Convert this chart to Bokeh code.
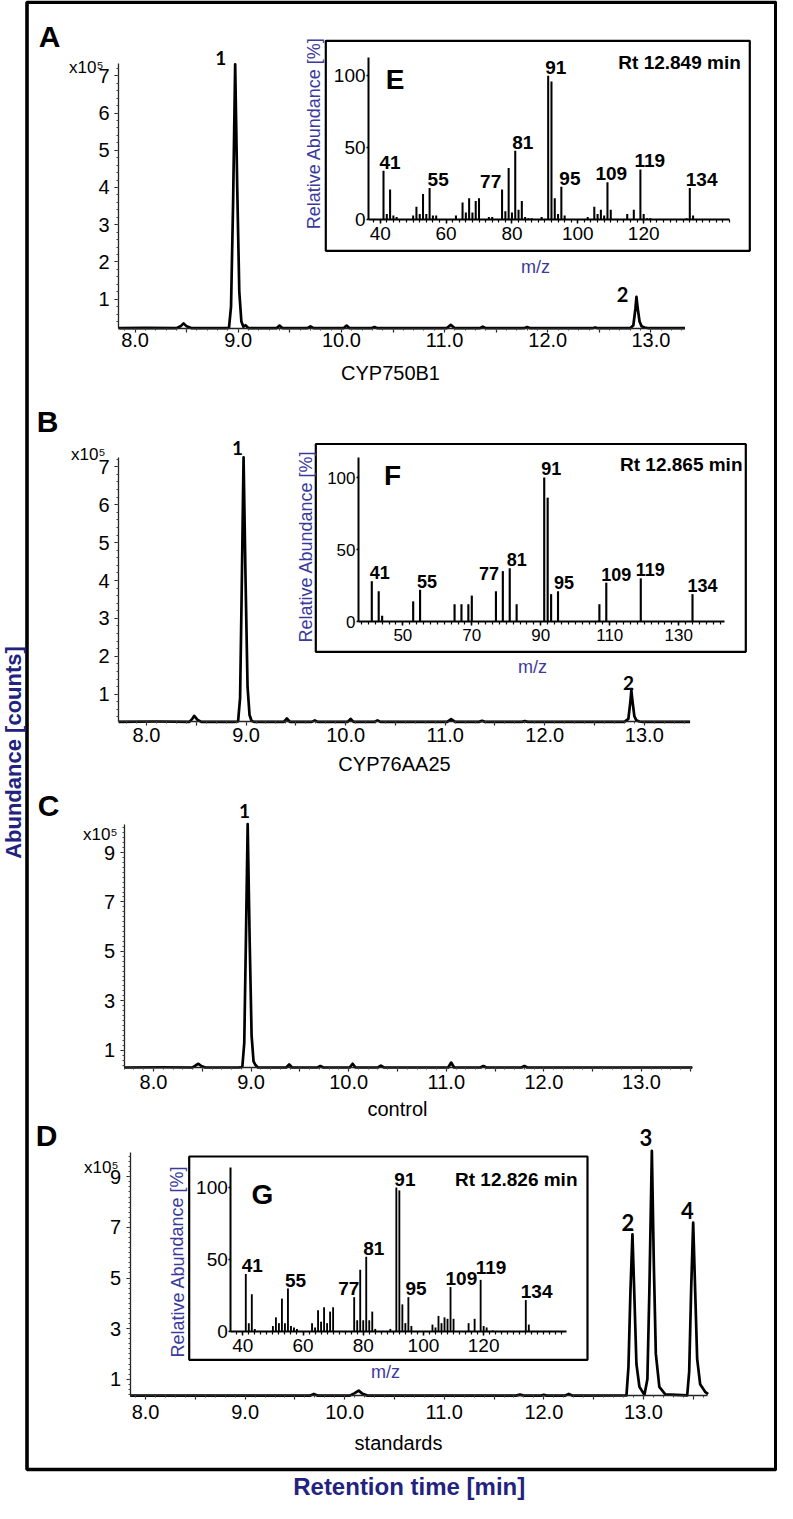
from bokeh.plotting import figure
from bokeh.models import (Range1d, LinearAxis, FixedTicker, PrintfTickFormatter,
                          BoxAnnotation, Label, ColumnDataSource)
from bokeh.core.properties import value
from bokeh.embed import file_html
from bokeh.resources import INLINE

# ------------------------------------------------------------------ data
# chromatograms: retention time [min] vs abundance [x10^5 counts]
A_time = [7.84, 8.10, 8.40, 8.44, 8.47, 8.50, 8.55, 8.88, 8.91, 8.93, 8.95, 8.97, 8.99,
          9.01, 9.03, 9.05, 9.07, 9.10, 9.37, 9.40, 9.43, 9.67, 9.70, 9.73, 10.02, 10.05,
          10.08, 10.29, 10.32, 10.35, 11.02, 11.06, 11.10, 11.34, 11.37, 11.40, 11.77,
          11.80, 11.83, 12.43, 12.46, 12.49, 12.80, 12.83, 12.85, 12.86, 12.87, 12.89,
          12.91, 12.94, 12.98, 13.33]
A_abund = [0.22, 0.23, 0.22, 0.27, 0.35, 0.27, 0.22, 0.22, 0.23, 0.80, 3.60, 7.31, 4.00,
           1.20, 0.40, 0.26, 0.30, 0.22, 0.22, 0.29, 0.22, 0.22, 0.27, 0.22, 0.22, 0.29,
           0.22, 0.22, 0.25, 0.22, 0.22, 0.31, 0.22, 0.22, 0.26, 0.22, 0.22, 0.25, 0.22,
           0.22, 0.24, 0.22, 0.22, 0.30, 0.75, 1.06, 0.80, 0.40, 0.27, 0.24, 0.22, 0.22]

B_time = [7.72, 8.10, 8.43, 8.46, 8.48, 8.51, 8.55, 8.88, 8.92, 8.94, 8.955, 8.975, 8.995,
          9.015, 9.035, 9.055, 9.08, 9.38, 9.41, 9.44, 9.66, 9.69, 9.72, 10.02, 10.05, 10.08,
          10.29, 10.32, 10.35, 11.02, 11.06, 11.10, 11.34, 11.37, 11.40, 11.77, 11.80, 11.83,
          12.80, 12.84, 12.86, 12.87, 12.88, 12.90, 12.92, 12.95, 12.99, 13.46]
B_abund = [0.27, 0.28, 0.27, 0.35, 0.43, 0.33, 0.27, 0.27, 0.28, 0.90, 3.50, 7.25, 4.00,
           1.20, 0.45, 0.30, 0.27, 0.27, 0.36, 0.27, 0.27, 0.31, 0.27, 0.27, 0.35, 0.27,
           0.27, 0.31, 0.27, 0.27, 0.34, 0.27, 0.27, 0.30, 0.27, 0.27, 0.29, 0.27, 0.27,
           0.35, 0.80, 1.10, 0.85, 0.42, 0.31, 0.28, 0.27, 0.27]

C_time = [7.70, 8.10, 8.40, 8.43, 8.46, 8.49, 8.53, 8.87, 8.91, 8.93, 8.945, 8.965, 8.985,
          9.005, 9.025, 9.045, 9.07, 9.36, 9.39, 9.42, 9.68, 9.71, 9.74, 10.01, 10.04, 10.07,
          10.30, 10.33, 10.36, 11.02, 11.05, 11.08, 11.35, 11.38, 11.41, 11.77, 11.80, 11.83,
          13.52]
C_abund = [0.30, 0.31, 0.30, 0.38, 0.45, 0.36, 0.30, 0.30, 0.32, 1.30, 5.00, 10.15, 5.50,
           1.60, 0.55, 0.40, 0.30, 0.30, 0.42, 0.30, 0.30, 0.36, 0.30, 0.30, 0.45, 0.30,
           0.30, 0.38, 0.30, 0.30, 0.50, 0.30, 0.30, 0.36, 0.30, 0.30, 0.36, 0.30, 0.30]

D_time = [7.845, 9.65, 9.69, 9.73, 10.05, 10.10, 10.14, 10.18, 10.23, 11.72, 11.76, 11.80,
          11.97, 12.00, 12.03, 12.21, 12.25, 12.29, 12.83, 12.85, 12.87, 12.89, 12.91, 12.93,
          12.96, 13.01, 13.04, 13.06, 13.085, 13.105, 13.125, 13.16, 13.22, 13.44, 13.46,
          13.48, 13.50, 13.52, 13.54, 13.57, 13.62, 13.65]
D_abund = [0.35, 0.35, 0.42, 0.35, 0.35, 0.45, 0.55, 0.42, 0.35, 0.35, 0.39, 0.35, 0.35,
           0.38, 0.35, 0.35, 0.42, 0.35, 0.36, 1.50, 4.50, 6.73, 4.20, 1.60, 0.70, 0.38,
           1.00, 4.50, 10.03, 5.50, 2.00, 0.70, 0.40, 0.36, 1.30, 4.60, 7.19, 4.50, 1.80,
           0.80, 0.50, 0.41]

# mass spectra: m/z vs relative abundance [%]
E_mz = [41, 42, 43, 44, 45, 50, 51, 52, 53, 54, 55, 56, 57, 63, 65, 66, 67, 68, 69, 70,
        73, 74, 77, 78, 79, 80, 81, 82, 83, 84, 85, 86, 89, 91, 92, 93, 94, 95, 96, 103,
        105, 106, 107, 108, 109, 110, 115, 117, 119, 120, 121, 122, 133, 134, 135]
E_rel = [34, 4, 21, 3, 2, 3, 9, 4, 18, 4, 22, 3, 3, 3, 12, 5, 15, 5, 13, 15,
         2, 2, 21, 6, 36, 5, 48, 7, 13, 2, 1, 1, 2, 100, 96, 15, 4, 23, 3, 2,
         9, 4, 7, 3, 26, 7, 4, 7, 35, 4, 1, 1, 1, 22, 3]

F_mz = [41, 43, 44, 53, 55, 65, 67, 69, 70, 77, 79, 81, 83, 91, 92, 93, 95, 107, 109, 119, 134]
F_rel = [28, 21, 4, 14, 22, 12, 12, 12, 18, 21, 35, 37, 12, 100, 86, 19, 21, 12, 27, 30, 19]

G_mz = [41, 42, 43, 44, 50, 51, 52, 53, 54, 55, 56, 57, 58, 63, 64, 65, 66, 67, 68, 69,
        70, 77, 78, 79, 80, 81, 82, 83, 84, 89, 91, 92, 93, 94, 95, 96, 103, 104, 105, 106,
        107, 108, 109, 110, 115, 117, 119, 120, 121, 123, 134, 135]
G_rel = [40, 6, 26, 2, 4, 10, 6, 23, 6, 30, 4, 3, 2, 6, 3, 15, 7, 17, 6, 14,
         17, 24, 8, 43, 8, 52, 8, 14, 2, 2, 100, 98, 19, 6, 24, 4, 5, 3, 11, 6,
         10, 9, 31, 9, 6, 9, 36, 4, 3, 1, 22, 5]

labelled_ions = [41, 55, 77, 81, 91, 95, 109, 119, 134]

chrom_xticks = [8.0, 8.5, 9.0, 9.5, 10.0, 10.5, 11.0, 11.5, 12.0, 12.5, 13.0, 13.5]
AB_yticks = [1, 2, 3, 4, 5, 6, 7]
CD_yticks = [1, 3, 5, 7, 9]
spec_yticks = [0, 50, 100]
E_xticks = [40, 60, 80, 100, 120]
F_xticks = [50, 70, 90, 110, 130]
G_xticks = [40, 60, 80, 100, 120]

for t_, a_ in ((A_time, A_abund), (B_time, B_abund), (C_time, C_abund), (D_time, D_abund),
               (E_mz, E_rel), (F_mz, F_rel), (G_mz, G_rel)):
    assert len(t_) == len(a_)

# ------------------------------------------------------------------ canvas
X0, X1, Y0, Y1 = 8, 785, 8, 1511          # page pixels covered by the canvas
FONT = "Liberation Sans"
NAVY = "#3a3a9e"
NAVY2 = "#22227f"

p = figure(width=X1 - X0, height=Y1 - Y0,
           x_range=Range1d(X0, X1), y_range=Range1d(Y1, Y0),
           x_axis_type=None, y_axis_type=None, toolbar_location=None,
           output_backend="svg", min_border=0, outline_line_color=None,
           title_location=None, background_fill_color="white",
           border_fill_color="white")


def xmap(d0, p0, d1, p1):
    s = (p1 - p0) / (d1 - d0)
    return Range1d(start=d0 + (X0 - p0) / s, end=d0 + (X1 - p0) / s)


def ymap(d0, p0, d1, p1):
    s = (p0 - p1) / (d1 - d0)
    return Range1d(start=d0 - (Y1 - p0) / s, end=d0 + (p0 - Y0) / s)


# panel geometry (layout): data value -> page pixel calibration
PANELS = {
    "A": dict(x=(8, 142.6, 13, 658.4), y=(0, 343.9, 7, 83.3), xb=(7.84, 13.33), yb=(0.21, 7.33),
              yt=AB_yticks, xs=0, ),
    "B": dict(x=(8, 154.0, 13, 651.8), y=(0, 739.6, 7, 474.3), xb=(7.72, 13.45), yb=(0.27, 7.25),
              yt=AB_yticks, xs=2),
    "C": dict(x=(8, 161.0, 13, 649.0), y=(0, 1082.4, 9, 860.0), xb=(7.70, 13.52), yb=(0.29, 10.15),
              yt=CD_yticks, xs=3),
    "D": dict(x=(8, 153.1, 13, 650.9), y=(0, 1412.0, 9, 1184.3), xb=(7.845, 13.64), yb=(0.34, 9.96),
              yt=CD_yticks, xs=5),
}
INSETS = {
    "E": dict(x=(41, 391.0, 134, 697.3), y=(0, 227.3, 100, 83.3), xb=(36.45, 146.1), yb=(0, 113),
              box=(333.3, 757.3, 48.3, 258.3), xt=E_xticks, fs=19),
    "F": dict(x=(41, 379.3, 134, 700.0), y=(0, 629.0, 100, 485.0), xb=(37.14, 143.2), yb=(0, 114),
              box=(323.3, 753.3, 451.5, 659.3), xt=F_xticks, fs=17),
    "G": dict(x=(41, 253.3, 134, 533.3), y=(0, 1339.3, 100, 1195.0), xb=(36.02, 147.5), yb=(0, 113.9),
              box=(196.7, 595.0, 1164.0, 1367.3), xt=G_xticks, fs=19),
}
for k, g in list(PANELS.items()) + list(INSETS.items()):
    p.extra_x_ranges[k] = xmap(*g["x"])
    p.extra_y_ranges[k] = ymap(*g["y"])

# outer frame and inset boxes
p.add_layout(BoxAnnotation(left=34.5, right=783.3, top=9.8, bottom=1477, fill_color=None,
                           fill_alpha=0, line_color="black", line_alpha=1, line_width=3.6,
                           level="underlay"))
for k, g in INSETS.items():
    l, r, t, b = g["box"]
    p.add_layout(BoxAnnotation(left=l, right=r, top=t, bottom=b, fill_color="white", fill_alpha=1,
                               line_color="black", line_alpha=1, line_width=2.2,
                               level="underlay"))

# ------------------------------------------------------------------ chromatograms
AX = dict(axis_line_color="#222222", axis_line_width=1.3, major_tick_line_color="#222222",
          major_tick_line_width=1.2, minor_tick_line_color="#444444", minor_tick_line_width=1,
          major_tick_in=0, minor_tick_in=0, major_label_text_font=FONT,
          major_label_text_color="black")

chrom = {"A": (A_time, A_abund), "B": (B_time, B_abund), "C": (C_time, C_abund), "D": (D_time, D_abund)}
for k, (tt, yy) in chrom.items():
    g = PANELS[k]
    p.line(tt, yy, x_range_name=k, y_range_name=k, line_color="black", line_width=2.7,
           line_join="round")
    x_lo, x_hi = g["xb"]
    y_lo, y_hi = g["yb"]
    xminor = [round(7.7 + 0.1 * i, 1) for i in range(60)]
    xminor = [v for v in xminor if x_lo <= v <= x_hi]
    xa = LinearAxis(x_range_name=k, y_range_name=k, fixed_location=y_lo, bounds=g["xb"],
                    ticker=FixedTicker(ticks=[v for v in chrom_xticks if v <= x_hi],
                                       minor_ticks=xminor),
                    formatter=PrintfTickFormatter(format="%.1f"),
                    major_label_overrides={t: "" for t in chrom_xticks if t % 1},
                    major_tick_out=4, minor_tick_out=2, major_label_standoff=g["xs"],
                    major_label_text_font_size="20px", **AX)
    p.add_layout(xa, "below")
    yminor = [round(0.2 * i, 1) for i in range(2, 52)]
    yminor = [v for v in yminor if y_lo <= v <= y_hi]
    ya = LinearAxis(x_range_name=k, y_range_name=k, fixed_location=x_lo, bounds=g["yb"],
                    ticker=FixedTicker(ticks=g["yt"], minor_ticks=yminor),
                    major_tick_out=4, minor_tick_out=2, major_label_standoff=5,
                    major_label_text_font_size="20px", **AX)
    p.add_layout(ya, "left")

# ------------------------------------------------------------------ mass spectra
spectra = {"E": (E_mz, E_rel), "F": (F_mz, F_rel), "G": (G_mz, G_rel)}
label_dx = {"E": [-4, -2, -22, -3, -3, -2, -12, -6, -4],
            "F": [-2, -3, -17, -3, -3, -4, -5, -5, -5],
            "G": [-4, -3, -16, -3, -2, -3, -5, -5, -5]}
label_dy = {"E": [-2] * 9,
            "F": [-2, -2, -11, -2, -3, -2, -2, -2, -2],
            "G": [-2, -2, -2, -2, -2, -2, -2, -6, -2]}
label_fs = {"E": 19, "F": 18, "G": 19}
for k, (mz, rel) in spectra.items():
    g = INSETS[k]
    p.vbar(x=mz, top=rel, bottom=0, width=0.62, x_range_name=k, y_range_name=k,
           fill_color="black", line_color=None)
    lookup = dict(zip(mz, rel))
    src = ColumnDataSource(dict(x=labelled_ions, y=[lookup[m] for m in labelled_ions],
                                t=[str(m) for m in labelled_ions], dx=label_dx[k], dy=label_dy[k]))
    p.text(x="x", y="y", text="t", x_offset="dx", y_offset="dy", source=src,
           x_range_name=k, y_range_name=k, text_font=value(FONT), text_font_style="bold",
           text_font_size=value(f"{label_fs[k]}px"), text_align="left",
           text_baseline="bottom", text_color="black")
    sminor = [v for v in range(36, 148, 2) if g["xb"][0] <= v <= g["xb"][1]]
    xa = LinearAxis(x_range_name=k, y_range_name=k, fixed_location=0, bounds=g["xb"],
                    ticker=FixedTicker(ticks=g["xt"], minor_ticks=sminor),
                    axis_line_color="black", axis_line_width=2, major_tick_line_color="black",
                    major_tick_line_width=1.5, minor_tick_line_color="black", minor_tick_line_width=1.2,
                    major_tick_in=0, major_tick_out=4, minor_tick_in=0, minor_tick_out=3,
                    major_label_standoff=3, major_label_text_font=FONT,
                    major_label_text_font_size=f"{g['fs']}px", major_label_text_color="black")
    p.add_layout(xa, "below")
    ya = LinearAxis(x_range_name=k, y_range_name=k, fixed_location=g["xb"][0], bounds=g["yb"],
                    ticker=FixedTicker(ticks=spec_yticks, minor_ticks=[]),
                    axis_line_color="black", axis_line_width=2, major_tick_line_color="black",
                    major_tick_line_width=1.5, major_tick_in=0, major_tick_out=2,
                    major_label_standoff=1, major_label_text_font=FONT,
                    major_label_text_font_size=f"{g['fs']}px", major_label_text_color="black")
    p.add_layout(ya, "left")


# ------------------------------------------------------------------ texts
def lab(x, y, text, size, bold=False, color="black", align="center", baseline="middle",
        angle=0.0, font=FONT):
    p.add_layout(Label(x=x, y=y, text=text, text_font=font, text_font_size=f"{size}px",
                       text_font_style="bold" if bold else "normal", text_color=color,
                       text_align=align, text_baseline=baseline, angle=angle))


# panel letters
for t, x, y in (("A", 57, 44), ("B", 55, 429), ("C", 56, 812.5), ("D", 54, 1143)):
    lab(x, y, t, 30, bold=True)
for t, x, y in (("E", 402.7, 87.3), ("F", 400, 483.3), ("G", 270, 1201.7)):
    lab(x, y, t, 28, bold=True)

# scale factors
for x, y in ((111, 75), (113, 461.7), (125, 841.7), (126, 1175)):
    lab(x, y, "x10\u2075", 17, align="right", baseline="alphabetic")

# peak numbers
for t, x, y, s in (("1", 228.3, 65, 19), ("2", 630, 301.7, 20), ("1", 245, 455, 19),
                   ("2", 636, 690, 19), ("1", 252, 818.3, 19), ("2", 635.5, 1230, 22),
                   ("3", 653.3, 1145, 22), ("4", 695, 1218.3, 22)):
    lab(x, y, t, s, bold=True, font="Lato")

# sample names under chromatograms
for t, x, y in (("CYP750B1", 398, 380), ("CYP76AA25", 402, 771.7), ("control", 405, 1116.7),
                ("standards", 406, 1450)):
    lab(x, y, t, 20)

# retention-time captions in spectra
for t, x, y in (("Rt 12.849 min", 748.3, 70), ("Rt 12.865 min", 750, 471.7),
                ("Rt 12.826 min", 585, 1186.7)):
    lab(x, y, t, 19, bold=True, align="right")

# spectrum axis titles
for x, y in ((321.7, 140.7), (313.3, 554), (185, 1269)):
    lab(x, y, "Relative Abundance [%]", 18, color=NAVY, angle=1.5708)
for x, y in ((543, 274), (540, 674), (393, 1379.3)):
    lab(x, y, "m/z", 18, color=NAVY)

# global axis titles
lab(21, 760, "Abundance [counts]", 22, bold=True, color=NAVY2, angle=1.5708)
lab(416.7, 1494, "Retention time [min]", 24, bold=True, color=NAVY2)

open("out.html", "w").write(file_html(p, INLINE))
